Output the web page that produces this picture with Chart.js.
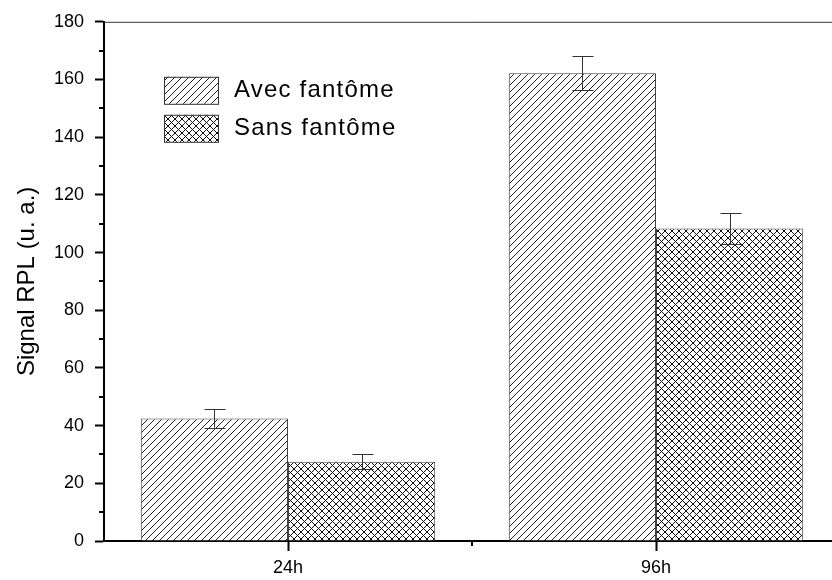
<!DOCTYPE html>
<html>
<head>
<meta charset="utf-8">
<script src="https://cdn.jsdelivr.net/npm/chart.js@4/dist/chart.umd.min.js"></script>
<style>
  html, body { margin: 0; padding: 0; background: #fff; overflow: hidden; }
</style>
</head>
<body>
<canvas id="chart" width="860" height="580"></canvas>
<script>
/* data */
const categories = ['24h', '96h'];
const avecValues = [42.5, 162.2];
const avecErrors = [3.2, 5.8];
const sansValues = [27.5, 108.3];
const sansErrors = [2.6, 5.4];
const seriesLabels = ['Avec fantôme', 'Sans fantôme'];
const yMinorTicks = [10, 30, 50, 70, 90, 110, 130, 150, 170];

const FONT = '"Liberation Sans", Arial, sans-serif';

// hatch fills, same idea as the Origin plot
function hatch(cross) {
  const s = 7;
  const c = document.createElement('canvas');
  c.width = s; c.height = s;
  const g = c.getContext('2d');
  g.fillStyle = '#fff';
  g.fillRect(0, 0, s, s);
  g.strokeStyle = cross ? '#111' : '#222';
  g.lineWidth = 1;
  g.beginPath();
  g.moveTo(-1, s + 1); g.lineTo(s + 1, -1);
  g.moveTo(-1, 1); g.lineTo(1, -1);
  g.moveTo(s - 1, s + 1); g.lineTo(s + 1, s - 1);
  if (cross) {
    g.moveTo(-1, -1); g.lineTo(s + 1, s + 1);
    g.moveTo(s - 1, -1); g.lineTo(s + 1, 1);
    g.moveTo(-1, s - 1); g.lineTo(1, s + 1);
  }
  g.stroke();
  return g.createPattern(c, 'repeat');
}

const ctx = document.getElementById('chart').getContext('2d');
const avecFill = hatch(false);
const sansFill = hatch(true);

// error bars on top of the bars
const errorBars = {
  id: 'errorBars',
  afterDatasetsDraw(chart) {
    const c = chart.ctx, y = chart.scales.y;
    c.save();
    c.strokeStyle = '#333';
    c.lineWidth = 1;
    chart.data.datasets.forEach(function (ds, di) {
      const meta = chart.getDatasetMeta(di);
      meta.data.forEach(function (bar, i) {
        const v = ds.data[i], e = ds.errors[i];
        const x = Math.round(bar.x) + 0.5;
        const top = y.getPixelForValue(v + e), bot = y.getPixelForValue(v - e);
        c.beginPath();
        c.moveTo(x, top); c.lineTo(x, bot);
        c.moveTo(x - 10, Math.round(top) + 0.5); c.lineTo(x + 11, Math.round(top) + 0.5);
        c.moveTo(x - 10, Math.round(bot) + 0.5); c.lineTo(x + 11, Math.round(bot) + 0.5);
        c.stroke();
      });
    });
    c.restore();
  }
};

// minor ticks, top frame line and the in-plot legend
const frame = {
  id: 'frame',
  afterDraw(chart) {
    const c = chart.ctx, a = chart.chartArea, y = chart.scales.y, x = chart.scales.x;
    c.save();
    c.strokeStyle = '#000';
    c.lineWidth = 2;
    c.beginPath();
    yMinorTicks.forEach(function (v) {
      const p = Math.round(y.getPixelForValue(v));
      c.moveTo(a.left - 5, p); c.lineTo(a.left, p);
    });
    const mid = Math.round((x.getPixelForValue(0) + x.getPixelForValue(1)) / 2);
    c.moveTo(mid, a.bottom); c.lineTo(mid, a.bottom + 5);
    c.stroke();

    c.strokeStyle = '#333';
    c.lineWidth = 1;
    c.beginPath();
    c.moveTo(a.left, a.top + 0.5); c.lineTo(a.right, a.top + 0.5);
    c.stroke();

    // legend
    c.font = '24px ' + FONT;
    c.letterSpacing = '1.2px';
    c.textBaseline = 'middle';
    chart.data.datasets.forEach(function (ds, i) {
      const bx = a.left + 60, by = a.top + 55 + i * 38;
      c.fillStyle = ds.backgroundColor;
      c.fillRect(bx, by, 54, 27);
      c.strokeStyle = '#333';
      c.lineWidth = 1;
      c.strokeRect(bx + 0.5, by + 0.5, 54, 27);
      c.fillStyle = '#000';
      c.fillText(ds.label, bx + 70, by + 14);
    });
    c.restore();
  }
};

new Chart(ctx, {
  type: 'bar',
  data: {
    labels: categories,
    datasets: [
      { label: seriesLabels[0], data: avecValues, errors: avecErrors,
        backgroundColor: avecFill, borderColor: '#444', borderWidth: 1,
        categoryPercentage: 0.8, barPercentage: 1.0 },
      { label: seriesLabels[1], data: sansValues, errors: sansErrors,
        backgroundColor: sansFill, borderColor: '#444', borderWidth: 1,
        categoryPercentage: 0.8, barPercentage: 1.0 }
    ]
  },
  options: {
    responsive: false,
    animation: false,
    layout: { padding: { top: 20, right: 20, left: 0, bottom: 0 } },
    plugins: { legend: { display: false }, tooltip: { enabled: false } },
    scales: {
      x: {
        offset: true,
        grid: { offset: false, drawOnChartArea: false, drawTicks: true, tickLength: 10, tickWidth: 2, tickColor: '#000' },
        border: { display: true, color: '#000', width: 2 },
        ticks: { color: '#000', padding: 6, font: { family: FONT, size: 18 } },
        afterFit: function (s) { s.height = 39; }
      },
      y: {
        min: 0, max: 180,
        grid: { drawOnChartArea: false, drawTicks: true, tickLength: 9, tickWidth: 2, tickColor: '#000' },
        border: { display: true, color: '#000', width: 2 },
        ticks: { stepSize: 20, color: '#000', padding: 11, font: { family: FONT, size: 18 } },
        title: { display: true, text: 'Signal RPL (u. a.)', color: '#000',
                 font: { family: FONT, size: 24 }, padding: { top: 13, bottom: 0 } },
        afterFit: function (s) { s.width = 104; }
      }
    }
  },
  plugins: [errorBars, frame]
});
</script>
</body>
</html>
